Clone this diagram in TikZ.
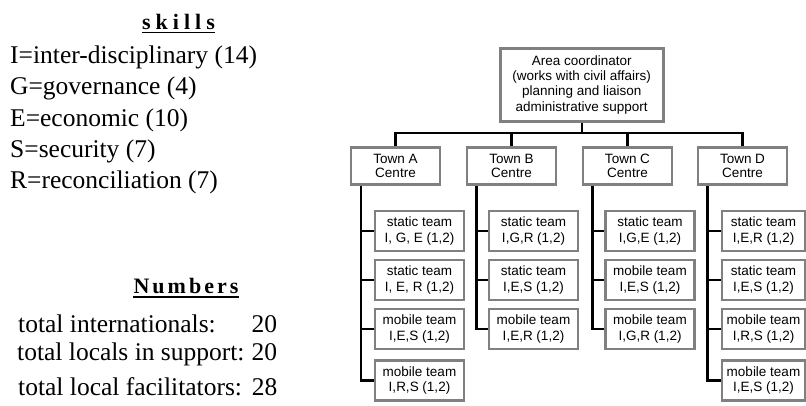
\documentclass[tikz,border=0pt]{standalone}
\usepackage{fontspec}
\setmainfont{Liberation Serif}
\newfontfamily\arialf{Liberation Sans}
\usetikzlibrary{backgrounds}
\definecolor{boxgray}{RGB}{128,128,128}
\begin{document}
\begin{tikzpicture}[x=1pt,y=-1pt,
  box/.style={draw=boxgray,line width=2.8pt,fill=white,inner sep=0pt,align=center,
    font=\arialf\fontsize{13.5}{15.3}\selectfont},
  areabox/.style={box,minimum width=163pt,minimum height=73pt},
  townbox/.style={box,minimum width=89pt,minimum height=37pt,font=\arialf\fontsize{13.5}{14.2}\selectfont},
  teambox/.style={box,minimum width=89pt,minimum height=40pt},
  teamboxd/.style={box,minimum width=83pt,minimum height=40pt},
  conn/.style={line width=2.4pt,black},
  txt/.style={inner sep=0pt,anchor=base west,font=\fontsize{25.5}{30}\selectfont},
  hdr/.style={inner sep=0pt,anchor=base,font=\fontsize{22}{26}\selectfont\bfseries},
  uline/.style={line width=1.1pt,black}]
\useasboundingbox (0,0) rectangle (806,405);

% left legend
\node[hdr] (hskills) at (178.5,29.3) {s\kern5pt k\kern5pt i\kern5pt l\kern5pt l\kern5pt s};
\draw[uline] ([yshift=-3pt]hskills.base west) -- ([yshift=-3pt]hskills.base east);
\node[txt] (s1) at (10,63.3) {I=inter-disciplinary (14)};
\node[txt] (s2) at (10,94.5) {G=governance (4)};
\node[txt] (s3) at (10,126) {E=economic (10)};
\node[txt] (s4) at (10,157.5) {S=security (7)};
\node[txt] (s5) at (10,188.8) {R=reconciliation (7)};

\node[hdr] (hnum) at (186,293.3) {N\kern3pt u\kern3pt m\kern3pt b\kern3pt e\kern3pt r\kern3pt s};
\draw[uline] ([yshift=-3.7pt]hnum.base west) -- ([yshift=-3.7pt]hnum.base east);
\node[txt] (n1) at (18,332) {\makebox[259pt][l]{total internationals:\hfill 20}};
\node[txt] (n2) at (17,360) {\makebox[260pt][l]{total locals in support:\hfill 20}};
\node[txt] (n3) at (18,395) {\makebox[259pt][l]{total local facilitators:\hfill 28}};

% chart
\node[areabox] (area) at (581.7,84.7) {Area coordinator\\(works with civil affairs)\\planning and liaison\\administrative support};

\node[townbox] (ta) at (395.5,165.7) {Town A\\Centre};
\node[townbox] (tb) at (511.5,165.7) {Town B\\Centre};
\node[townbox] (tc) at (627.5,165.7) {Town C\\Centre};
\node[townbox] (td) at (742.5,165.7) {Town D\\Centre};

\node[teambox] (a1) at (419.5,231) {static team\\I, G, E (1,2)};
\node[teambox] (a2) at (419.5,280) {static team\\I, E, R (1,2)};
\node[teambox] (a3) at (419.5,329) {mobile team\\I,E,S (1,2)};
\node[teambox] (a4) at (419.5,380.5) {mobile team\\I,R,S (1,2)};

\node[teambox] (b1) at (533.5,231) {static team\\I,G,R (1,2)};
\node[teambox] (b2) at (533.5,280) {static team\\I,E,S (1,2)};
\node[teambox] (b3) at (533.5,329) {mobile team\\I,E,R (1,2)};

\node[teambox] (c1) at (650,231) {static team\\I,G,E (1,2)};
\node[teambox] (c2) at (650,280) {mobile team\\I,E,S (1,2)};
\node[teambox] (c3) at (650,329) {mobile team\\I,G,R (1,2)};

\node[teamboxd] (d1) at (763.5,231) {static team\\I,E,R (1,2)};
\node[teamboxd] (d2) at (763.5,280) {static team\\I,E,S (1,2)};
\node[teamboxd] (d3) at (763.5,329) {mobile team\\I,R,S (1,2)};
\node[teamboxd] (d4) at (763.5,380.5) {mobile team\\I,E,S (1,2)};

\begin{scope}[on background layer]
  \foreach \t in {ta,tb,tc,td}
    \draw[conn] (area.south) |- ([yshift=13pt]\t.north) -- (\t.north);
  \foreach \k in {a1,a2,a3,a4}
    \draw[conn] ([xshift=11.5pt]ta.south west) |- (\k.west);
  \foreach \k in {b1,b2,b3}
    \draw[conn] ([xshift=11pt]tb.south west) |- (\k.west);
  \foreach \k in {c1,c2,c3}
    \draw[conn] ([xshift=10.7pt]tc.south west) |- (\k.west);
  \foreach \k in {d1,d2,d3,d4}
    \draw[conn] ([xshift=10.7pt]td.south west) |- (\k.west);
\end{scope}
\end{tikzpicture}
\end{document}
